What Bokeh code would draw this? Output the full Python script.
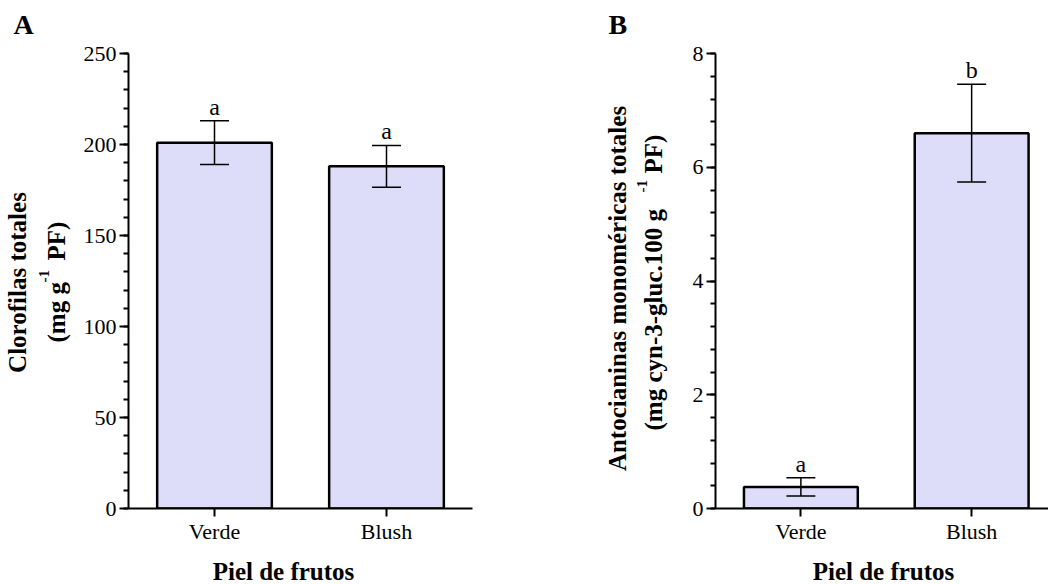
from bokeh.plotting import figure
from bokeh.models import (ColumnDataSource, Whisker, TeeHead, Label,
                          SingleIntervalTicker, FixedTicker, Range1d)
from bokeh.layouts import row, column
from bokeh.embed import file_html
from bokeh.resources import INLINE
from bokeh.core.properties import value
import math

# ---------------- data ----------------
categories = ["Verde", "Blush"]

chl_mean = [201.0, 188.0]          # Clorofilas totales (mg g-1 PF)
chl_err = [12.0, 11.5]
chl_letters = ["a", "a"]

ant_mean = [0.38, 6.6]             # Antocianinas monoméricas totales
ant_err = [0.16, 0.86]
ant_letters = ["a", "b"]

FONT = "Liberation Serif"
BAR_FILL = "#DDDDFA"
TOTAL_W = 1048
TOP_STRIP = 40
BOTTOM_STRIP = 36
ROW_H = 584 - TOP_STRIP - BOTTOM_STRIP   # 508


def make_panel(width, borders, x_end, y_end, y_interval, means, errs, letters):
    left, right, top, bottom = borders
    p = figure(width=width, height=ROW_H, output_backend="svg",
               toolbar_location=None, tools="",
               x_range=Range1d(0.5, x_end), y_range=Range1d(0, y_end),
               min_border_left=left, min_border_right=right,
               min_border_top=top, min_border_bottom=bottom)
    p.outline_line_color = None
    p.grid.visible = False
    p.background_fill_color = "white"
    p.border_fill_color = "white"

    xs = [i + 1 for i in range(len(categories))]
    src = ColumnDataSource(dict(
        x=xs, top=means,
        upper=[m + e for m, e in zip(means, errs)],
        lower=[m - e for m, e in zip(means, errs)],
        letter=letters))

    p.vbar(x="x", top="top", bottom=0, width=2 / 3, source=src,
           fill_color=BAR_FILL, line_color="black", line_width=2.5)

    w = Whisker(base="x", upper="upper", lower="lower", source=src,
                line_color="black", line_width=1.5, level="annotation",
                upper_head=TeeHead(size=29, line_width=1.5, line_color="black"),
                lower_head=TeeHead(size=29, line_width=1.5, line_color="black"))
    p.add_layout(w)

    p.text(x="x", y="upper", text="letter", source=src,
           text_font=value(FONT), text_font_size="24px", text_color="black",
           text_align="center", text_baseline="alphabetic", y_offset=-14)

    xa = p.xaxis[0]
    xa.ticker = FixedTicker(ticks=xs)
    xa.major_label_overrides = {x: c for x, c in zip(xs, categories)}
    xa.minor_tick_line_color = None
    xa.major_tick_out = 8
    xa.major_tick_in = 0
    xa.axis_line_width = 2
    xa.major_tick_line_width = 2
    xa.axis_line_color = "black"
    xa.major_tick_line_color = "black"
    xa.major_label_text_font = FONT
    xa.major_label_text_font_size = "22px"
    xa.major_label_text_color = "black"
    xa.major_label_standoff = 2

    ya = p.yaxis[0]
    ya.ticker = SingleIntervalTicker(interval=y_interval, num_minor_ticks=5)
    ya.major_tick_out = 9
    ya.major_tick_in = 0
    ya.minor_tick_out = 5
    ya.minor_tick_in = 0
    ya.axis_line_width = 2
    ya.major_tick_line_width = 2
    ya.minor_tick_line_width = 2
    ya.axis_line_color = "black"
    ya.major_tick_line_color = "black"
    ya.minor_tick_line_color = "black"
    ya.major_label_text_font = FONT
    ya.major_label_text_font_size = "22px"
    ya.major_label_text_color = "black"
    ya.major_label_standoff = 3
    return p


def strip(width, height):
    s = figure(width=width, height=height, output_backend="svg",
               toolbar_location=None, tools="", x_axis_location=None,
               y_axis_location=None, min_border=0,
               x_range=Range1d(0, width), y_range=Range1d(0, height))
    s.outline_line_color = None
    s.grid.visible = False
    s.background_fill_color = "white"
    s.border_fill_color = "white"
    return s


def lab(fig, x, y, text, size, bold=True, angle=0.0, align="left",
        baseline="alphabetic"):
    fig.add_layout(Label(x=x, y=y, x_units="screen", y_units="screen",
                         text=text, angle=angle, text_font=FONT,
                         text_font_size=size,
                         text_font_style="bold" if bold else "normal",
                         text_color="black", text_align=align,
                         text_baseline=baseline))


V = math.pi / 2

# top strip: panel letters
ts = strip(TOTAL_W, TOP_STRIP)
lab(ts, 13, 16, "A", "28px")
lab(ts, 608, 16, "B", "28px")

# strip left of panel A (y title); frame spans the plots' frame height
sa = strip(80, ROW_H)
lab(sa, 17, 226, "Clorofilas totales", "25px", angle=V, align="center",
    baseline="middle")
lab(sa, 56, 166, "(mg g", "25px", angle=V, baseline="middle")
lab(sa, 43, 226, "-1", "15px", angle=V, baseline="middle")
lab(sa, 56, 248, "PF)", "25px", angle=V, baseline="middle")

pa = make_panel(470, (48, 78, 13, 40), 2.5, 250, 50,
                chl_mean, chl_err, chl_letters)

# strip left of panel B (y title)
sb = strip(135, ROW_H)
lab(sb, 67, 220, "Antocianinas monoméricas totales", "25px", angle=V,
    align="center", baseline="middle")
lab(sb, 103, 78, "(mg cyn-3-gluc.100 g", "25px", angle=V, baseline="middle")
lab(sb, 91, 316, "-1", "15px", angle=V, baseline="middle")
lab(sb, 103, 335, "PF)", "25px", angle=V, baseline="middle")

pb = make_panel(363, (30, 0, 13, 40), 2.45, 8, 2,
                ant_mean, ant_err, ant_letters)

# bottom strip with x titles
bs = strip(TOTAL_W, BOTTOM_STRIP)
lab(bs, 283, 13, "Piel de frutos", "25px", align="center")
lab(bs, 883, 13, "Piel de frutos", "25px", align="center")

layout = column(ts, row(sa, pa, sb, pb), bs)
open("out.html", "w").write(file_html(layout, INLINE))
